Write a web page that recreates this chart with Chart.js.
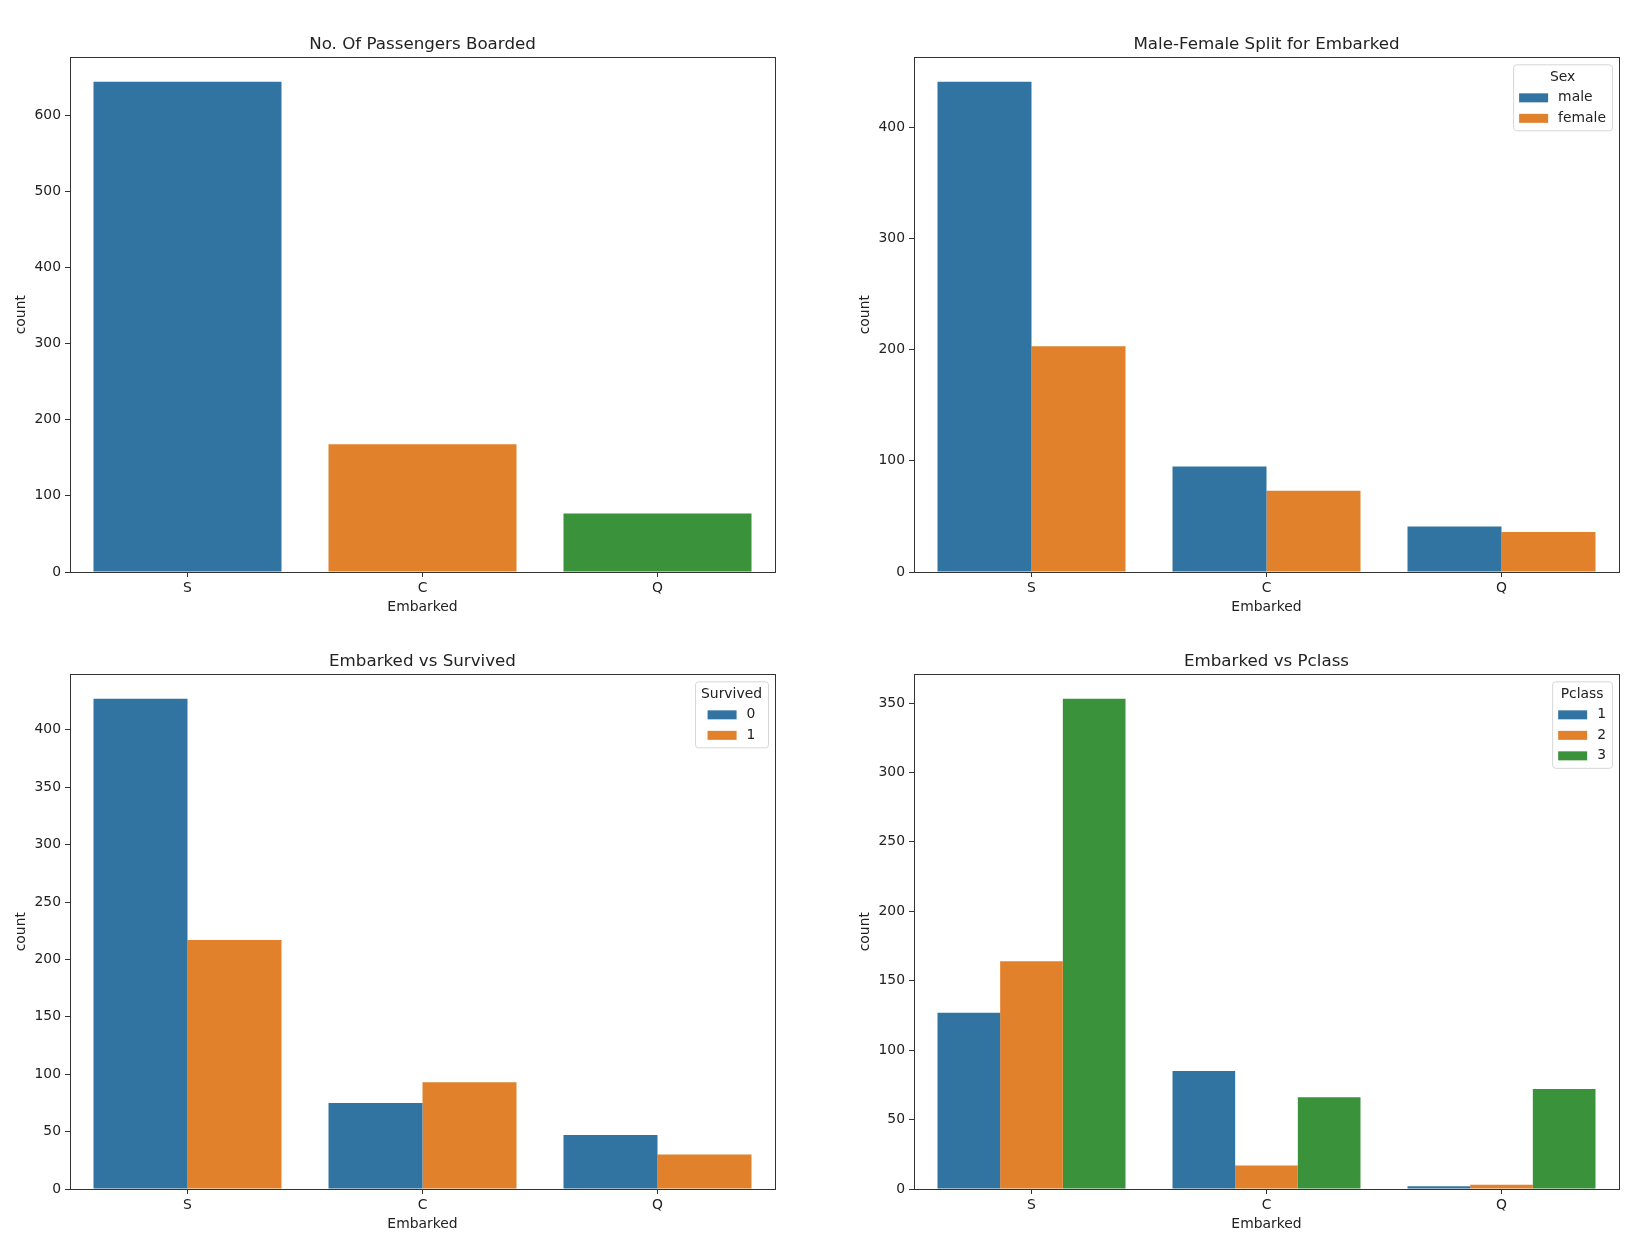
<!DOCTYPE html>
<html>
<head>
<meta charset="utf-8">
<script src="https://cdn.jsdelivr.net/npm/chart.js@4.4.1/dist/chart.umd.min.js"></script>
<style>
  body { margin: 0; background: #fff; width: 1648px; height: 1258px; position: relative; overflow: hidden; }
  .box { position: absolute; width: 779px; height: 620px; }
</style>
</head>
<body>
<div class="box" style="left:0;top:0"><canvas id="c1"></canvas></div>
<div class="box" style="left:844px;top:0"><canvas id="c2"></canvas></div>
<div class="box" style="left:0;top:617px"><canvas id="c3"></canvas></div>
<div class="box" style="left:844px;top:617px"><canvas id="c4"></canvas></div>
<script>
const ports = ['S', 'C', 'Q'];

const boarded = [644, 168, 77];

const sexLabels = ['male', 'female'];
const male = [441, 95, 41];
const female = [203, 73, 36];

const survivedLabels = ['0', '1'];
const died = [427, 75, 47];
const survived = [217, 93, 30];

const pclassLabels = ['1', '2', '3'];
const class1 = [127, 85, 2];
const class2 = [164, 17, 3];
const class3 = [353, 66, 72];

const ticksBoarded = [0, 100, 200, 300, 400, 500, 600];
const ticksSex = [0, 100, 200, 300, 400];
const ticksSurvived = [0, 50, 100, 150, 200, 250, 300, 350, 400];
const ticksPclass = [0, 50, 100, 150, 200, 250, 300, 350];

const palette = ['#3274a1', '#e1812c', '#3a923a'];
const ink = '#222';
const font = '"DejaVu Sans", sans-serif';

// full matplotlib-style frame around the plot area
const frame = {
  id: 'frame',
  afterDatasetsDraw(chart) {
    const a = chart.chartArea, ctx = chart.ctx;
    ctx.save();
    ctx.strokeStyle = '#333';
    ctx.lineWidth = 1;
    ctx.strokeRect(Math.round(a.left) + 0.5, Math.round(a.top) + 0.5,
      Math.round(a.right - a.left), Math.round(a.bottom - a.top));
    ctx.restore();
  }
};

// legend box drawn inside the upper right corner
const boxLegend = {
  id: 'boxLegend',
  afterDraw(chart, args, opts) {
    if (!opts.title) return;
    const ctx = chart.ctx, a = chart.chartArea;
    const ds = chart.data.datasets;
    const sw = 29, sh = 9, gap = 10, pad = 6, rowH = 20.5;
    ctx.save();
    ctx.font = '13.9px ' + font;
    const lw = Math.max(...ds.map(d => ctx.measureText(d.label).width));
    const rowW = sw + gap + lw;
    const tw = ctx.measureText(opts.title).width;
    const w = Math.max(tw, rowW) + 2 * pad;
    const h = 13 + ds.length * rowH + 12;
    const x = a.right - 7 - w, y = a.top + 7;

    ctx.beginPath();
    ctx.roundRect(x + 0.5, y + 0.5, w, h, 3);
    ctx.fillStyle = 'rgba(255,255,255,0.8)';
    ctx.fill();
    ctx.strokeStyle = '#d6d6d6';
    ctx.lineWidth = 1;
    ctx.stroke();

    ctx.fillStyle = ink;
    ctx.textBaseline = 'middle';
    ctx.textAlign = 'center';
    ctx.fillText(opts.title, x + w / 2, y + 13);

    const rx = x + (w - rowW) / 2;
    ctx.textAlign = 'left';
    ds.forEach((d, i) => {
      const cy = y + 13 + rowH * (i + 1);
      ctx.fillStyle = d.backgroundColor;
      ctx.fillRect(rx, cy - sh / 2, sw, sh);
      ctx.fillStyle = ink;
      ctx.fillText(d.label, rx + sw + gap, cy);
    });
    ctx.restore();
  }
};

function makeChart(id, title, datasets, yMax, yTicks, legendTitle) {
  return new Chart(document.getElementById(id), {
    type: 'bar',
    data: { labels: ports, datasets },
    options: {
      responsive: true,
      maintainAspectRatio: false,
      animation: false,
      layout: { padding: { left: 0, right: 4, top: 0, bottom: 0 } },
      datasets: { bar: { categoryPercentage: 0.8, barPercentage: 1 } },
      plugins: {
        legend: { display: false },
        tooltip: { enabled: false },
        title: {
          display: true,
          fullSize: false,
          text: title,
          color: ink,
          font: { family: font, size: 16.7, weight: 'normal' },
          padding: { top: 35, bottom: 2.3 }
        },
        boxLegend: { title: legendTitle }
      },
      scales: {
        x: {
          offset: true,
          border: { display: false },
          grid: { drawOnChartArea: false, drawTicks: true, tickLength: 5, color: '#333', offset: false },
          ticks: { color: ink, font: { family: font, size: 13.9 }, padding: 3 },
          title: { display: true, text: 'Embarked', color: ink, font: { family: font, size: 13.9 }, padding: { top: 0, bottom: 4 } },
          afterFit(scale) { scale.height = 48; }
        },
        y: {
          min: 0,
          max: yMax,
          border: { display: false },
          grid: { drawOnChartArea: false, drawTicks: true, tickLength: 5, color: '#333' },
          ticks: { color: ink, font: { family: font, size: 13.9 }, padding: 4 },
          title: { display: true, text: 'count', color: ink, font: { family: font, size: 13.9 }, padding: { top: 13, bottom: 0 } },
          afterBuildTicks(scale) { scale.ticks = yTicks.map(v => ({ value: v })); },
          afterFit(scale) { scale.width = 70; }
        }
      }
    },
    plugins: [frame, boxLegend]
  });
}

makeChart('c1', 'No. Of Passengers Boarded',
  [{ label: 'count', data: boarded, backgroundColor: palette }],
  644 * 1.05, ticksBoarded, null);

makeChart('c2', 'Male-Female Split for Embarked', [
  { label: sexLabels[0], data: male, backgroundColor: palette[0] },
  { label: sexLabels[1], data: female, backgroundColor: palette[1] }
], 441 * 1.05, ticksSex, 'Sex');

makeChart('c3', 'Embarked vs Survived', [
  { label: survivedLabels[0], data: died, backgroundColor: palette[0] },
  { label: survivedLabels[1], data: survived, backgroundColor: palette[1] }
], 427 * 1.05, ticksSurvived, 'Survived');

makeChart('c4', 'Embarked vs Pclass', [
  { label: pclassLabels[0], data: class1, backgroundColor: palette[0] },
  { label: pclassLabels[1], data: class2, backgroundColor: palette[1] },
  { label: pclassLabels[2], data: class3, backgroundColor: palette[2] }
], 353 * 1.05, ticksPclass, 'Pclass');
</script>
</body>
</html>
